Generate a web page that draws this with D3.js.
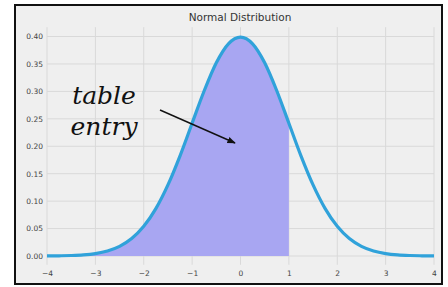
<!DOCTYPE html>
<html>
<head>
<meta charset="utf-8">
<script src="https://cdn.jsdelivr.net/npm/d3@7"></script>
<style>
  body { margin: 0; background: #fff; }
  svg { display: block; }
</style>
</head>
<body>
<svg id="chart" width="448" height="287"></svg>
<script>
// density values, x step 0.25
var xs = [-4, -3.75, -3.5, -3.25, -3, -2.75, -2.5, -2.25, -2, -1.75, -1.5, -1.25, -1, -0.75, -0.5, -0.25,
          0, 0.25, 0.5, 0.75, 1, 1.25, 1.5, 1.75, 2, 2.25, 2.5, 2.75, 3, 3.25, 3.5, 3.75, 4];
var ys = [0.0001, 0.0004, 0.0009, 0.0020, 0.0044, 0.0091, 0.0175, 0.0317, 0.0540, 0.0863, 0.1295, 0.1826, 0.2420, 0.3011, 0.3521, 0.3867,
          0.3989, 0.3867, 0.3521, 0.3011, 0.2420, 0.1826, 0.1295, 0.0863, 0.0540, 0.0317, 0.0175, 0.0091, 0.0044, 0.0020, 0.0009, 0.0004, 0.0001];
var xTicks = [-4, -3, -2, -1, 0, 1, 2, 3, 4];
var yTicks = [0, 0.05, 0.10, 0.15, 0.20, 0.25, 0.30, 0.35, 0.40];
var fillUpTo = 1;

var points = xs.map(function(x, i) { return {x: x, y: ys[i]}; });

var svg = d3.select("#chart");

// outer frame
svg.append("rect")
    .attr("x", 15).attr("y", 5)
    .attr("width", 427).attr("height", 279)
    .attr("fill", "#efefef")
    .attr("stroke", "#111")
    .attr("stroke-width", 2);

var xScale = d3.scaleLinear().domain([-4, 4]).range([47, 434]);
var yScale = d3.scaleLinear().domain([0, 0.4]).range([256, 36.5]);

// grid
var grid = svg.append("g");
grid.selectAll("line.v")
    .data(xTicks)
    .enter().append("line")
        .attr("class", "v")
        .attr("x1", function(d) { return xScale(d); })
        .attr("x2", function(d) { return xScale(d); })
        .attr("y1", yScale(0.417))
        .attr("y2", yScale(-0.016))
        .attr("stroke", "#d9d9d9")
        .attr("stroke-width", 1);
grid.selectAll("line.h")
    .data(yTicks)
    .enter().append("line")
        .attr("class", "h")
        .attr("x1", xScale(-4))
        .attr("x2", xScale(4))
        .attr("y1", function(d) { return yScale(d); })
        .attr("y2", function(d) { return yScale(d); })
        .attr("stroke", "#d9d9d9")
        .attr("stroke-width", 1);

/* axes, labels only */
var xAxis = svg.append("g")
    .attr("transform", "translate(0,265)")
    .call(d3.axisBottom(xScale).tickValues(xTicks).tickSize(0).tickPadding(6)
        .tickFormat(function(d) { return d < 0 ? "\u2212" + Math.abs(d) : d; }));
var yAxis = svg.append("g")
    .attr("transform", "translate(47,0)")
    .call(d3.axisLeft(yScale).tickValues(yTicks).tickSize(0).tickPadding(4)
        .tickFormat(d3.format(".2f")));
svg.selectAll(".domain").remove();
svg.selectAll(".tick text")
    .attr("fill", "#444")
    .style("font-family", "DejaVu Sans, sans-serif")
    .style("font-size", "7.5px");

// shaded area up to x = 1
var area = d3.area()
    .curve(d3.curveMonotoneX)
    .x(function(d) { return xScale(d.x); })
    .y0(yScale(0))
    .y1(function(d) { return yScale(d.y); });
svg.append("path")
    .datum(points.filter(function(d) { return d.x <= fillUpTo; }))
    .attr("d", area)
    .attr("fill", "#a8a6f2");

var line = d3.line()
    .curve(d3.curveMonotoneX)
    .x(function(d) { return xScale(d.x); })
    .y(function(d) { return yScale(d.y); });
svg.append("path")
    .datum(points)
    .attr("d", line)
    .attr("fill", "none")
    .attr("stroke", "#30a2da")
    .attr("stroke-width", 3.2)
    .attr("stroke-linejoin", "round");

// title
svg.append("text")
    .attr("x", 240).attr("y", 21)
    .attr("text-anchor", "middle")
    .attr("fill", "#333")
    .style("font-family", "DejaVu Sans, sans-serif")
    .style("font-size", "10.5px")
    .text("Normal Distribution");

// annotation
svg.append("defs").append("marker")
    .attr("id", "head")
    .attr("viewBox", "0 0 10 10")
    .attr("refX", 9).attr("refY", 5)
    .attr("markerWidth", 6).attr("markerHeight", 6)
    .attr("orient", "auto")
  .append("path")
    .attr("d", "M0,1 L10,5 L0,9 Z")
    .attr("fill", "#111");
svg.append("line")
    .attr("x1", 160).attr("y1", 110)
    .attr("x2", 235).attr("y2", 143)
    .attr("stroke", "#111")
    .attr("stroke-width", 1.4)
    .attr("marker-end", "url(#head)");

var note = svg.append("g")
    .style("font-family", "DejaVu Serif, serif")
    .style("font-style", "italic")
    .style("font-size", "25px")
    .attr("fill", "#111")
    .attr("text-anchor", "middle");
note.append("text").attr("x", 104).attr("y", 104).text("table");
note.append("text").attr("x", 104).attr("y", 135).text("entry");
</script>
</body>
</html>
